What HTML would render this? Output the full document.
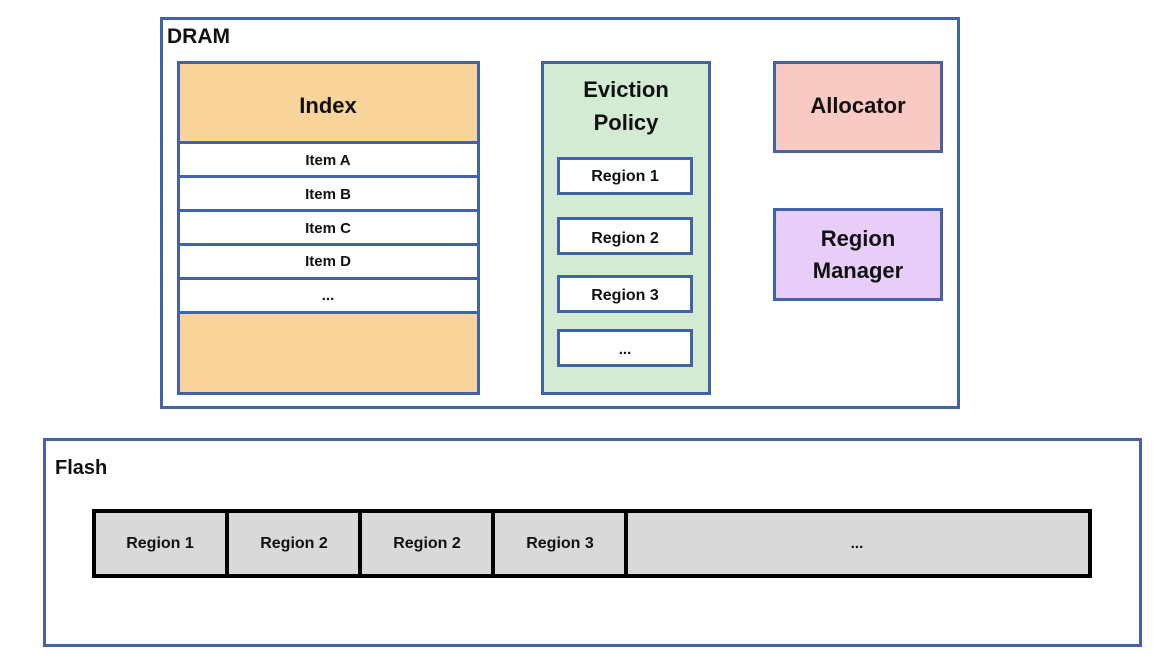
<!DOCTYPE html>
<html><head><meta charset="utf-8"><style>
html,body{margin:0;padding:0;background:#fff;}
svg{display:block;}
text{font-family:"Liberation Sans",Arial,sans-serif;font-weight:bold;fill:#111;}
</style></head><body>
<svg width="1154" height="664" viewBox="0 0 1154 664" xmlns="http://www.w3.org/2000/svg">
<g stroke="#4262ab" stroke-width="3">
<rect x="161.5" y="18.5" width="797" height="389" fill="#fff"/>
<rect x="178.5" y="62.5" width="300" height="331" fill="#f8d49b"/>
<rect x="178.5" y="142.5" width="300" height="34" fill="#fff"/>
<rect x="178.5" y="176.5" width="300" height="34" fill="#fff"/>
<rect x="178.5" y="210.5" width="300" height="34" fill="#fff"/>
<rect x="178.5" y="244.5" width="300" height="34" fill="#fff"/>
<rect x="178.5" y="278.5" width="300" height="34" fill="#fff"/>
<rect x="542.5" y="62.5" width="167" height="331" fill="#d3ebd3"/>
<rect x="558.5" y="158.5" width="133" height="35" fill="#fff"/>
<rect x="558.5" y="218.5" width="133" height="35" fill="#fff"/>
<rect x="558.5" y="276.5" width="133" height="35" fill="#fff"/>
<rect x="558.5" y="330.5" width="133" height="35" fill="#fff"/>
<rect x="774.5" y="62.5" width="167" height="89" fill="#f9c9c4"/>
<rect x="774.5" y="209.5" width="167" height="90" fill="#e8cdf9"/>
<rect x="44.5" y="439.5" width="1096" height="206" fill="#fff"/>
</g>
<g stroke="#000" stroke-width="4" fill="#d9d9d9">
<rect x="94" y="511" width="996" height="65"/>
<line x1="227" y1="511" x2="227" y2="576"/>
<line x1="360" y1="511" x2="360" y2="576"/>
<line x1="493" y1="511" x2="493" y2="576"/>
<line x1="626" y1="511" x2="626" y2="576"/>
</g>
<text x="167" y="43" font-size="21">DRAM</text>
<text x="55" y="474" font-size="20">Flash</text>
<g text-anchor="middle">
<text x="328" y="113" font-size="22">Index</text>
<text x="328" y="165" font-size="15">Item A</text>
<text x="328" y="199" font-size="15">Item B</text>
<text x="328" y="233" font-size="15">Item C</text>
<text x="328" y="266" font-size="15">Item D</text>
<text x="328" y="300" font-size="15">...</text>
<text x="626" y="97" font-size="22">Eviction</text>
<text x="626" y="130" font-size="22">Policy</text>
<text x="625" y="181" font-size="16">Region 1</text>
<text x="625" y="243" font-size="16">Region 2</text>
<text x="625" y="300" font-size="16">Region 3</text>
<text x="625" y="354" font-size="15">...</text>
<text x="858" y="113" font-size="22">Allocator</text>
<text x="858" y="246" font-size="22">Region</text>
<text x="858" y="278" font-size="22">Manager</text>
<text x="160" y="548" font-size="16">Region 1</text>
<text x="294" y="548" font-size="16">Region 2</text>
<text x="427" y="548" font-size="16">Region 2</text>
<text x="560" y="548" font-size="16">Region 3</text>
<text x="857" y="548" font-size="15">...</text>
</g>
</svg>
</body></html>
